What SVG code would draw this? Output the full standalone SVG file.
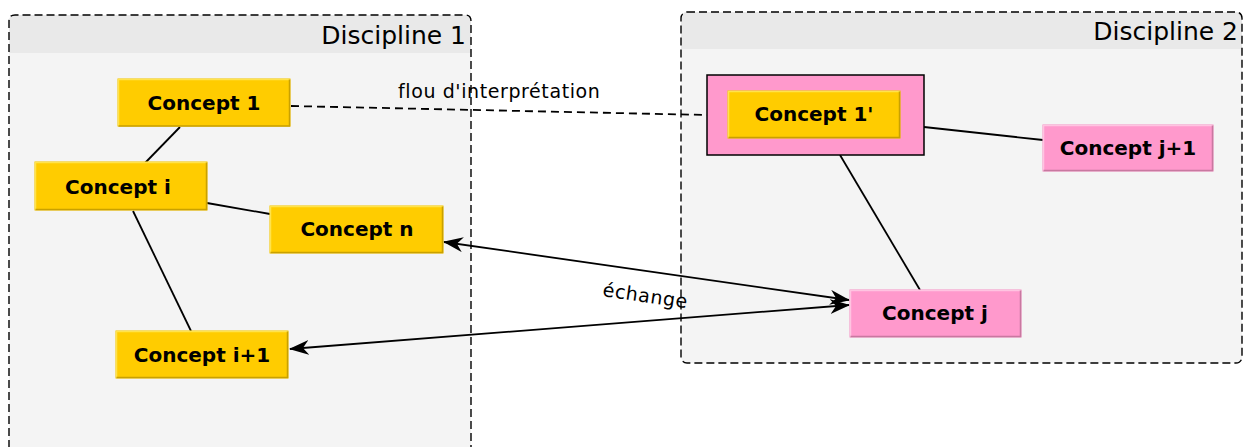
<svg xmlns="http://www.w3.org/2000/svg" width="1247" height="447" viewBox="0 0 1247 447">
<style>
.disc{fill:#f4f4f4;stroke:none}
.hdr{fill:#e9e9e9}
.border{fill:none;stroke:#000;stroke-width:1.4;stroke-dasharray:8,4}
.title{font-family:"DejaVu Sans",sans-serif;font-size:25px;fill:#000;text-anchor:end}
.yel{fill:#ffcc00;stroke:#f0c000;stroke-width:1}
.pink{fill:#ff99cc;stroke:#f08cbf;stroke-width:1}
.hi-y{fill:none;stroke:#ffe34d;stroke-width:1.5}
.lo-y{fill:none;stroke:#c9a100;stroke-width:1.5}
.hi-p{fill:none;stroke:#ffc4e1;stroke-width:1.5}
.lo-p{fill:none;stroke:#c878a0;stroke-width:1.5}
.lbl{font-family:"DejaVu Sans",sans-serif;font-weight:bold;font-size:20px;fill:#000;text-anchor:middle}
.edge{stroke:#000;stroke-width:1.8;fill:none}
.dash{stroke-dasharray:8,5}
.elbl{font-family:"DejaVu Sans",sans-serif;font-size:19px;letter-spacing:0.6px;fill:#000}
</style>
<defs>
<marker id="arr" viewBox="0 0 20 15" refX="19" refY="7.5" markerWidth="20" markerHeight="15" markerUnits="userSpaceOnUse" orient="auto-start-reverse">
<path d="M0,0 L20,7.5 L0,15 L6,7.5 Z" fill="#000"/>
</marker>
</defs>
<rect width="1247" height="447" fill="#fff"/>
<g id="discipline1">
<path class="disc" d="M9,21 Q9,15 15,15 L465,15 Q471,15 471,21 L471,460 L9,460 Z"/>
<path class="hdr" d="M9,21 Q9,15 15,15 L465,15 Q471,15 471,21 L471,53 L9,53 Z"/>
<path class="border" d="M9,460 L9,21 Q9,15 15,15 L465,15 Q471,15 471,21 L471,460"/>
<text class="title" x="466" y="44">Discipline 1</text>
</g>
<g id="discipline2">
<rect class="disc" x="681" y="12" width="561" height="351" rx="6"/>
<path class="hdr" d="M681,18 Q681,12 687,12 L1236,12 Q1242,12 1242,18 L1242,49 L681,49 Z"/>
<rect class="border" x="681" y="12" width="561" height="351" rx="6"/>
<text class="title" x="1238" y="40">Discipline 2</text>
</g>
<g id="connectors">
<line class="edge" x1="180" y1="127" x2="145" y2="163"/>
<line class="edge" x1="207" y1="203" x2="270" y2="214"/>
<line class="edge" x1="133" y1="211" x2="191" y2="331"/>
<line class="edge dash" x1="291" y1="106" x2="707" y2="115"/>
<text class="elbl" x="398" y="98">flou d'interprétation</text>
<line class="edge" x1="924" y1="127" x2="1043" y2="140"/>
<line class="edge" x1="840" y1="155" x2="920" y2="290"/>
<line class="edge" x1="444" y1="242" x2="849" y2="300" marker-start="url(#arr)" marker-end="url(#arr)"/>
<line class="edge" x1="290" y1="349" x2="849" y2="305" marker-start="url(#arr)" marker-end="url(#arr)"/>
<text class="elbl" x="602" y="296" transform="rotate(8.2 602 296)">échange</text>
</g>
<g id="concept1">
<rect class="yel" x="118" y="79" width="172" height="47"/>
<polyline class="hi-y" points="118.5,126 118.5,79.5 290,79.5"/>
<polyline class="lo-y" points="118.5,126 289.5,126 289.5,79.5"/>
<text class="lbl" x="204" y="110">Concept 1</text>
</g>
<g id="concepti">
<rect class="yel" x="35" y="162" width="172" height="48"/>
<polyline class="hi-y" points="35.5,210 35.5,162.5 207,162.5"/>
<polyline class="lo-y" points="35.5,209.5 206.5,209.5 206.5,162.5"/>
<text class="lbl" x="118" y="194">Concept i</text>
</g>
<g id="conceptn">
<rect class="yel" x="270" y="206" width="173" height="47"/>
<polyline class="hi-y" points="270.5,253 270.5,206.5 443,206.5"/>
<polyline class="lo-y" points="270.5,252.5 442.5,252.5 442.5,206.5"/>
<text class="lbl" x="357" y="236">Concept n</text>
</g>
<g id="concepti1">
<rect class="yel" x="116" y="331" width="172" height="47"/>
<polyline class="hi-y" points="116.5,378 116.5,331.5 288,331.5"/>
<polyline class="lo-y" points="116.5,377.5 287.5,377.5 287.5,331.5"/>
<text class="lbl" x="202" y="362">Concept i+1</text>
</g>
<g id="concept1prime">
<rect x="707" y="75" width="217" height="80" fill="#ff99cc" stroke="#000" stroke-width="1.5"/>
<rect class="yel" x="728" y="91" width="172" height="47"/>
<polyline class="hi-y" points="728.5,138 728.5,91.5 900,91.5"/>
<polyline class="lo-y" points="728.5,137.5 899.5,137.5 899.5,91.5"/>
<text class="lbl" x="814" y="121">Concept 1'</text>
</g>
<g id="conceptj1">
<rect class="pink" x="1043" y="125" width="170" height="46"/>
<polyline class="hi-p" points="1043.5,171 1043.5,125.5 1213,125.5"/>
<polyline class="lo-p" points="1043.5,170.5 1212.5,170.5 1212.5,125.5"/>
<text class="lbl" x="1128" y="155">Concept j+1</text>
</g>
<g id="conceptj">
<rect class="pink" x="850" y="290" width="171" height="47"/>
<polyline class="hi-p" points="850.5,337 850.5,290.5 1021,290.5"/>
<polyline class="lo-p" points="850.5,336.5 1020.5,336.5 1020.5,290.5"/>
<text class="lbl" x="935" y="320">Concept j</text>
</g>
</svg>
